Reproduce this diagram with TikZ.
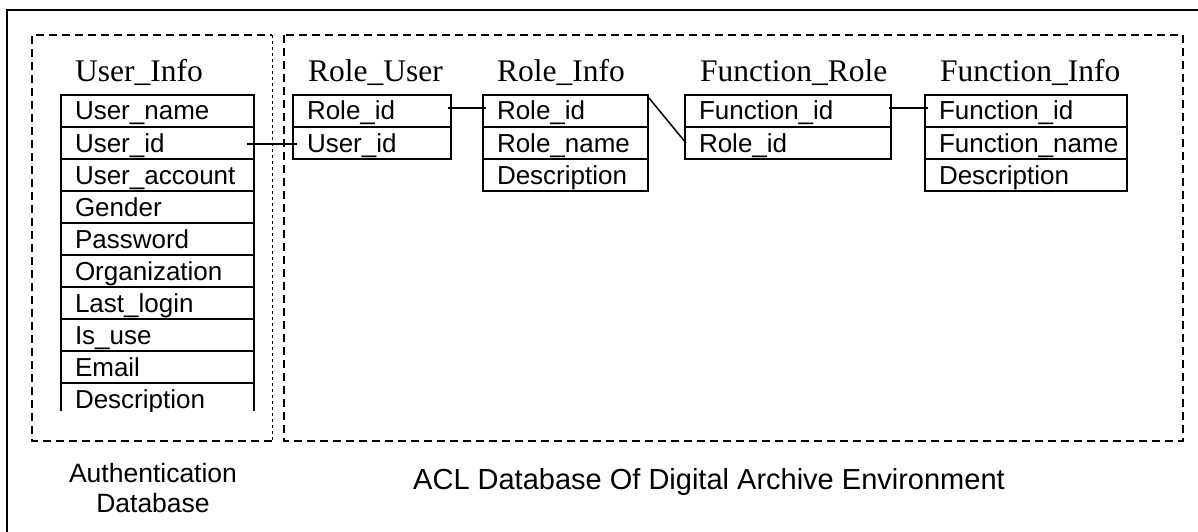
\documentclass[tikz,border=0pt]{standalone}
\usepackage{fontspec}
\setmainfont{Liberation Serif}
\setsansfont{Liberation Sans}
\usetikzlibrary{positioning,calc}

\begin{document}
\begin{tikzpicture}[x=1pt,y=-1pt,
  field/.style={draw,line width=2pt,outer sep=0pt,minimum height=32pt,inner xsep=14pt,inner ysep=0pt,
    text height=20pt,text depth=2pt,align=left,anchor=north west,font=\sffamily\fontsize{26}{30}\selectfont},
  title/.style={anchor=base west,inner sep=0pt,font=\fontsize{31.5}{36}\selectfont},
  zone/.style={line width=2pt,dash pattern=on 8pt off 5pt},
  dbname/.style={align=center,inner sep=0pt,font=\sffamily\fontsize{26.5}{30}\selectfont},
  link/.style={line width=1.5pt}]
\useasboundingbox (0,0) rectangle (1198,532);
\draw[line width=2pt] (1198,10) -- (7,10) -- (7,532);

% the two databases
\draw[zone] (272,441) -- (32,441) -- (32,35) -- (272,35);
\draw[dashed,line width=1pt] (272,35) -- (272,441);
\draw[zone] (284,35) rectangle (1183,441);

% User_Info
\node[title] (uit) at (75,82) {User\_Info};
\foreach \f [count=\i] in {User\_name,User\_id,User\_account,Gender,Password,Organization,Last\_login,Is\_use,Email}
  \node[field,text width=165pt] (ui\i) at (61,63+32*\i) {\f};
\begin{scope}
\clip (50,383) rectangle (270,411);
\node[field,draw=none,text width=165pt] (ui10) at (61,383) {Description};
\end{scope}
\draw[line width=2pt] (ui10.north west) -- ++(0,28) (ui10.north east) -- ++(0,28);

% Role_User
\node[title] (rut) at (308,82) {Role\_User};
\node[field,text width=130pt] (ru1) at (293,95) {Role\_id};
\node[field,text width=130pt,below=0pt of ru1] (ru2) {User\_id};

% Role_Info
\node[title] (rit) at (497,82) {Role\_Info};
\node[field,text width=137pt] (ri1) at (483,95) {Role\_id};
\node[field,text width=137pt,below=0pt of ri1] (ri2) {Role\_name};
\node[field,text width=137pt,below=0pt of ri2] (ri3) {Description};

% Function_Role
\node[title] (frt) at (700,82) {Function\_Role};
\node[field,text width=178pt] (fr1) at (685,95) {Function\_id};
\node[field,text width=178pt,below=0pt of fr1] (fr2) {Role\_id};

% Function_Info
\node[title] (fit) at (940,82) {Function\_Info};
\node[field,text width=174pt] (fi1) at (925,95) {Function\_id};
\node[field,text width=174pt,below=0pt of fi1] (fi2) {Function\_name};
\node[field,text width=174pt,below=0pt of fi2] (fi3) {Description};

% links
\draw[link] ($(ui2.east)+(-7,1)$) -- ($(ru2.west)+(4,1)$);
\draw[link] ($(ru1.east)+(-3,-3)$) -- ($(ri1.west)+(3,-3)$);
\draw[link] ($(ri1.north east)+(1,3)$) -- ($(fr2.west)+(1,0)$);
\draw[link] ($(fr1.east)+(-2,-3)$) -- ($(fi1.west)+(3,-3)$);

\node[dbname] (auth) at (153,488) {Authentication\\Database};
\node[dbname,font=\sffamily\fontsize{29}{33}\selectfont] (acl) at (709,482) {ACL Database Of Digital Archive Environment};
\end{tikzpicture}
\end{document}
